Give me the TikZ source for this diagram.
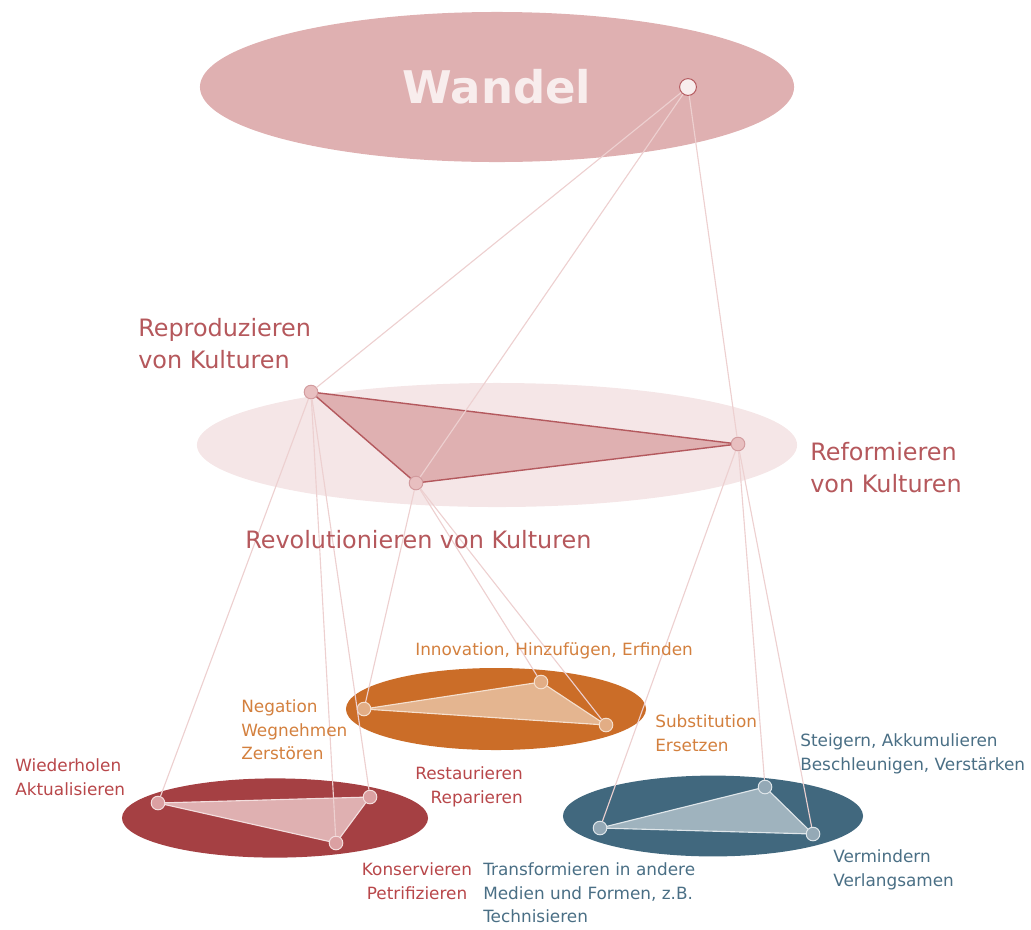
\documentclass[tikz,border=0pt]{standalone}
\usepackage{fontspec}
\setmainfont{DejaVu Sans}
\usetikzlibrary{positioning, shapes.geometric}

\definecolor{wandelfill}{HTML}{DFB0B1}
\definecolor{wandeltext}{HTML}{F8EDED}
\definecolor{kulturfill}{HTML}{F5E6E7}
\definecolor{kulturline}{HTML}{B4595E}
\definecolor{kulturtext}{HTML}{B5585C}
\definecolor{kulturdot}{HTML}{E8BFC0}
\definecolor{linkcol}{HTML}{EDD0D0}
\definecolor{redfill}{HTML}{A54043}
\definecolor{redtri}{HTML}{DFB0B1}
\definecolor{rededge}{HTML}{F3DEDE}
\definecolor{reddot}{HTML}{DBA0A2}
\definecolor{redtext}{HTML}{B8474A}
\definecolor{orangefill}{HTML}{CB6D28}
\definecolor{orangetri}{HTML}{E4B590}
\definecolor{orangeedge}{HTML}{F5E0CF}
\definecolor{orangedot}{HTML}{E2AD85}
\definecolor{orangetext}{HTML}{D3803E}
\definecolor{bluefill}{HTML}{41687E}
\definecolor{bluetri}{HTML}{9FB3BE}
\definecolor{blueedge}{HTML}{DFE6EA}
\definecolor{bluedot}{HTML}{94A9B6}
\definecolor{bluetext}{HTML}{4A6F85}

\begin{document}
\begin{tikzpicture}[x=0.025cm, y=-0.025cm,
    ring/.style = {ellipse, inner sep=0pt},
    dot/.style = {circle, draw, inner sep=0pt, minimum size=0.34cm, line width=0.7pt},
    link/.style = {draw=linkcol, line width=0.8pt},
    big/.style = {font=\fontsize{17}{22.8}\selectfont, text=kulturtext, align=left, inner sep=0pt},
    small/.style = {font=\fontsize{12}{17}\selectfont, align=left, inner sep=0pt}
  ]
  \useasboundingbox (0,0) rectangle (1031,929);

  % Ellipses
  \node[ring, fill=wandelfill, minimum width=14.85cm, minimum height=3.75cm,
        font=\fontsize{32}{38}\selectfont\bfseries, text=wandeltext] (wandel) at (497,87) {Wandel};
  \node[ring, fill=kulturfill, minimum width=15cm, minimum height=3.1cm] (kulturen) at (497,445) {};
  \node[ring, fill=redfill, minimum width=7.65cm, minimum height=1.98cm] (redring) at (275,818) {};
  \node[ring, fill=orangefill, minimum width=7.5cm, minimum height=2.05cm] (orangering) at (496,709) {};
  \node[ring, fill=bluefill, minimum width=7.5cm, minimum height=2.02cm] (bluering) at (713,816) {};

  % Corner points
  \coordinate (w) at (688,87);
  \coordinate (rep) at (311,392);
  \coordinate (ref) at (738,444);
  \coordinate (rev) at (416,483);
  \coordinate (wie) at (158,803);
  \coordinate (res) at (370,797);
  \coordinate (kon) at (336,843);
  \coordinate (neg) at (364,709);
  \coordinate (inn) at (541,682);
  \coordinate (sub) at (606,725);
  \coordinate (tra) at (600,828);
  \coordinate (ste) at (765,787);
  \coordinate (ver) at (813,834);

  % Triangles
  \filldraw[fill=wandelfill, draw=kulturline, line width=1pt] (rep) -- (ref) -- (rev) -- cycle;
  \filldraw[fill=redtri, draw=rededge, line width=0.8pt] (wie) -- (res) -- (kon) -- cycle;
  \filldraw[fill=orangetri, draw=orangeedge, line width=0.8pt] (neg) -- (inn) -- (sub) -- cycle;
  \filldraw[fill=bluetri, draw=blueedge, line width=0.8pt] (tra) -- (ste) -- (ver) -- cycle;

  % Dots
  \node[dot, fill=wandeltext, draw=kulturline, minimum size=0.42cm] (pW) at (w) {};
  \node[dot, fill=kulturdot, draw=kulturline!60] (pRep) at (rep) {};
  \node[dot, fill=kulturdot, draw=kulturline!60] (pRef) at (ref) {};
  \node[dot, fill=kulturdot, draw=kulturline!60] (pRev) at (rev) {};
  \node[dot, fill=reddot, draw=rededge] (pWie) at (wie) {};
  \node[dot, fill=reddot, draw=rededge] (pRes) at (res) {};
  \node[dot, fill=reddot, draw=rededge] (pKon) at (kon) {};
  \node[dot, fill=orangedot, draw=orangeedge] (pNeg) at (neg) {};
  \node[dot, fill=orangedot, draw=orangeedge] (pInn) at (inn) {};
  \node[dot, fill=orangedot, draw=orangeedge] (pSub) at (sub) {};
  \node[dot, fill=bluedot, draw=blueedge] (pTra) at (tra) {};
  \node[dot, fill=bluedot, draw=blueedge] (pSte) at (ste) {};
  \node[dot, fill=bluedot, draw=blueedge] (pVer) at (ver) {};

  % Links from Wandel
  \draw[link] (pW) -- (pRep);
  \draw[link] (pW) -- (pRev);
  \draw[link] (pW) -- (pRef);

  % Links from Kulturen
  \draw[link] (pRep) -- (pWie);
  \draw[link] (pRep) -- (pKon);
  \draw[link] (pRep) -- (pRes);
  \draw[link] (pRev) -- (pNeg);
  \draw[link] (pRev) -- (pInn);
  \draw[link] (pRev) -- (pSub);
  \draw[link] (pRef) -- (pTra);
  \draw[link] (pRef) -- (pSte);
  \draw[link] (pRef) -- (pVer);

  % Labels
  \node[big, anchor=north west] (repLbl) at (138,318) {Reproduzieren\\von Kulturen};
  \node[big, anchor=north west] (refLbl) at (810,442) {Reformieren\\von Kulturen};
  \node[big, anchor=north west] (revLbl) at (245,530) {Revolutionieren von Kulturen};

  \node[small, text=orangetext, anchor=north west] (innLbl) at (415,642) {Innovation, Hinzufügen, Erfinden};
  \node[small, text=orangetext, anchor=north west] (negLbl) at (241,699) {Negation\\Wegnehmen\\Zerstören};
  \node[small, text=orangetext, anchor=north west] (subLbl) at (655,714) {Substitution\\Ersetzen};

  \node[small, text=redtext, anchor=north west] (wieLbl) at (15,758) {Wiederholen\\Aktualisieren};
  \node[small, text=redtext, align=right, anchor=north east] (resLbl) at (523,766) {Restaurieren\\Reparieren};
  \node[small, text=redtext, align=center, anchor=north] (konLbl) at (417,862) {Konservieren\\Petrifizieren};

  \node[small, text=bluetext, anchor=north west] (traLbl) at (483,862) {Transformieren in andere\\Medien und Formen, z.B.\\Technisieren};
  \node[small, text=bluetext, anchor=north west] (steLbl) at (800,733) {Steigern, Akkumulieren\\Beschleunigen, Verstärken};
  \node[small, text=bluetext, anchor=north west] (verLbl) at (833,849) {Vermindern\\Verlangsamen};

\end{tikzpicture}
\end{document}
